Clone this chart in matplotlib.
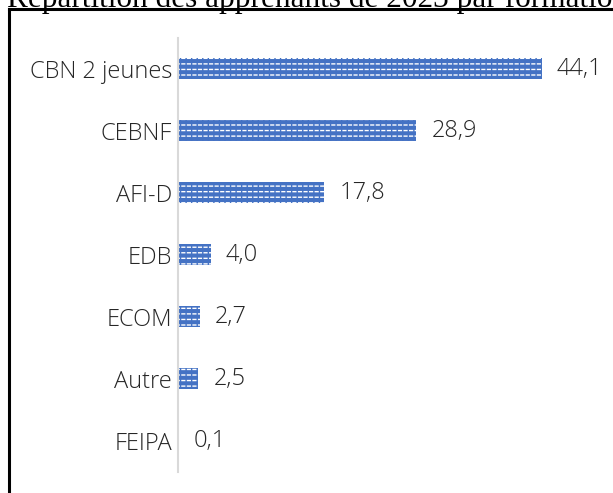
import matplotlib.pyplot as plt
from matplotlib.lines import Line2D

# Répartition des apprenants de 2023 par formation (%)
formations = ['CBN 2 jeunes', 'CEBNF', 'AFI-D', 'EDB', 'ECOM', 'Autre', 'FEIPA']
parts = [44.1, 28.9, 17.8, 4.0, 2.7, 2.5, 0.1]
value_labels = ['44,1', '28,9', '17,8', '4,0', '2,7', '2,5', '0,1']

W, H = 613, 493
blue = '#4472C4'
plt.rcParams['hatch.linewidth'] = 1.0

fig = plt.figure(figsize=(W / 100, H / 100), dpi=100)

# axes placed in pixel terms
left, right = 177.5, 177.5 + 50 * 8.254
top, bottom = 37.5, 471.5
ax = fig.add_axes([left / W, 1 - bottom / H, (right - left) / W, (bottom - top) / H])

y = list(range(len(formations)))
# white stripes on blue, then blue vertical hatch on top to break them into dashes
ax.barh(y, parts, height=0.34, color=blue, edgecolor='white',
        linewidth=0, hatch='---')
ax.barh(y, parts, height=0.34, facecolor='none', edgecolor=blue,
        linewidth=0, hatch='|||')

font = dict(family='Open Sans', fontweight='light')
for yi, v, lab in zip(y, parts, value_labels):
    ax.annotate(lab, (v, yi), xytext=(11, 0), textcoords='offset points',
                ha='left', va='center', fontsize=17, color='#262626', **font)

ax.set_xlim(0, 50)
ax.set_ylim(6.5, -0.5)
ax.set_yticks(y)
ax.set_yticklabels(formations, fontsize=17, color='#262626', **font)
ax.tick_params(axis='y', length=0, pad=4)
ax.set_xticks([])
for s in ['top', 'right', 'bottom']:
    ax.spines[s].set_visible(False)
ax.spines['left'].set_color('#D9D9D9')
ax.spines['left'].set_linewidth(1.5)

# frame around the chart and the clipped heading above it
fig.add_artist(Line2D([8.8 / W, 8.8 / W], [0, 1 - 8.8 / H], color='black',
                      linewidth=2.2, transform=fig.transFigure, solid_capstyle='projecting'))
fig.add_artist(Line2D([8.8 / W, 1], [1 - 8.8 / H, 1 - 8.8 / H], color='black',
                      linewidth=2.2, transform=fig.transFigure, solid_capstyle='projecting'))
fig.text(7 / W, 1 - 6.5 / H, 'Répartition des apprenants de 2023 par formation',
         ha='left', va='baseline', fontsize=22.5, family='Liberation Serif', color='black')

fig.savefig('out.png', dpi=100)
